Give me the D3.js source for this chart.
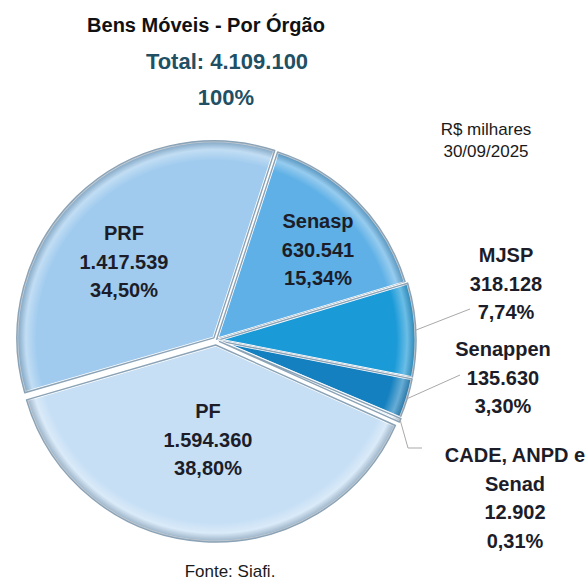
<!DOCTYPE html>
<html>
<head>
<meta charset="utf-8">
<script src="https://cdn.jsdelivr.net/npm/d3@7"></script>
<style>
  body { margin: 0; background: #fff; }
  text { font-family: "Liberation Sans", Arial, sans-serif; }
</style>
</head>
<body>
<svg width="586" height="581"></svg>
<script>
// Data (R$ milhares, 30/09/2025)
const orgaos = ["Senasp", "MJSP", "Senappen", "CADE, ANPD e Senad", "PF", "PRF"];
const nomesRotulo = [["Senasp"], ["MJSP"], ["Senappen"], ["CADE, ANPD e", "Senad"], ["PF"], ["PRF"]];
const valores = [630541, 318128, 135630, 12902, 1594360, 1417539];
const percentuais = [15.34, 7.74, 3.30, 0.31, 38.80, 34.50];
const total = 4109100;

const svg = d3.select("svg");
const svgWidth = +svg.attr("width");

const center = { x: 216, y: 340 };
const radius = 197;
const startDeg = 18; // first slice (Senasp) starts a bit right of 12 o'clock

const br = d3.formatLocale({ decimal: ",", thousands: ".", grouping: [3], currency: ["R$", ""] });
const fmtNum = br.format(",d");
const fmtPct = v => br.format(",.2f")(v) + "%";

const color = d3.scaleOrdinal()
    .domain(orgaos)
    .range(["#5eb0e6", "#1b9ad8", "#1580bf", "#d3e5f4", "#c6dff5", "#a0cbee"]);

// how far each slice is pulled out from the centre
const explode = { "Senasp": 1, "MJSP": 3, "Senappen": 3, "CADE, ANPD e Senad": 4, "PF": 5, "PRF": 3 };

const data = orgaos.map((o, i) => ({ orgao: o, nome: nomesRotulo[i], valor: valores[i], pct: percentuais[i] }));

const a0 = startDeg * Math.PI / 180;
const pie = d3.pie().sort(null).value(d => d.valor).startAngle(a0).endAngle(a0 + 2 * Math.PI);
const arcs = pie(data);

const arc = d3.arc().innerRadius(0).outerRadius(radius);
const edgeArc = d3.arc().innerRadius(radius).outerRadius(radius);

// rim shading gradient
const defs = svg.append("defs");
const rim = defs.append("radialGradient")
    .attr("id", "rim")
    .attr("gradientUnits", "userSpaceOnUse")
    .attr("cx", 0).attr("cy", 0).attr("r", radius);
rim.append("stop").attr("offset", "0.90").attr("stop-color", "#fff").attr("stop-opacity", 0);
rim.append("stop").attr("offset", "0.955").attr("stop-color", "#fff").attr("stop-opacity", 0.35);
rim.append("stop").attr("offset", "1").attr("stop-color", "#3d5468").attr("stop-opacity", 0.35);

function offset(d) {
    const mid = (d.startAngle + d.endAngle) / 2;
    const k = explode[d.data.orgao];
    return [Math.sin(mid) * k, -Math.cos(mid) * k];
}

const pieGroup = svg.append("g")
    .attr("transform", `translate(${center.x},${center.y})`);

const slices = pieGroup.selectAll("g.slice")
    .data(arcs)
    .enter()
    .append("g")
    .attr("class", "slice")
    .attr("transform", d => `translate(${offset(d)})`);

slices.append("path")
    .attr("d", arc)
    .attr("fill", d => color(d.data.orgao))
    .attr("stroke", "#fff")
    .attr("stroke-width", 3)
    .attr("stroke-linejoin", "round");

slices.append("path")
    .attr("d", arc)
    .attr("fill", "url(#rim)")
    .attr("stroke", "#8ba3b7")
    .attr("stroke-width", 1.4)
    .attr("stroke-linejoin", "round");

// Labels
const lineH = 28.5;
const labelPos = {
    "PRF": { x: 124, y: 240 },
    "Senasp": { x: 318, y: 228 },
    "PF": { x: 208, y: 418 },
    "MJSP": { x: 506, y: 262 },
    "Senappen": { x: 503, y: 356 },
    "CADE, ANPD e Senad": { x: 515, y: 462 }
};
// where the leader lines end (outer labels only)
const leaderEnd = {
    "MJSP": [[470, 309]],
    "Senappen": [[460, 375]],
    "CADE, ANPD e Senad": [[408, 448], [422, 448]]
};

const labels = svg.append("g").attr("class", "labels");

arcs.forEach(d => {
    const p = labelPos[d.data.orgao];
    const lines = d.data.nome.concat([fmtNum(d.data.valor), fmtPct(d.data.pct)]);
    const t = labels.append("text")
        .attr("text-anchor", "middle")
        .attr("font-size", 20)
        .attr("font-weight", "bold")
        .attr("fill", "#1c1d29");
    lines.forEach((s, i) => {
        t.append("tspan").attr("x", p.x).attr("y", p.y + i * lineH).text(s);
    });

    if (leaderEnd[d.data.orgao]) {
        const c = edgeArc.centroid(d);
        const o = offset(d);
        const pts = [[center.x + c[0] + o[0], center.y + c[1] + o[1]]].concat(leaderEnd[d.data.orgao]);
        labels.append("path")
            .attr("d", d3.line()(pts))
            .attr("fill", "none")
            .attr("stroke", "#a9a9a9")
            .attr("stroke-width", 1);
    }
});

// Titles
svg.append("text")
    .attr("x", 206).attr("y", 32)
    .attr("text-anchor", "middle")
    .attr("font-size", 20).attr("font-weight", "bold")
    .attr("fill", "#111")
    .text("Bens Móveis - Por Órgão");

svg.append("text")
    .attr("x", 227).attr("y", 69)
    .attr("text-anchor", "middle")
    .attr("font-size", 22).attr("font-weight", "bold")
    .attr("fill", "#214f63")
    .text("Total: " + fmtNum(total));

svg.append("text")
    .attr("x", 226).attr("y", 105)
    .attr("text-anchor", "middle")
    .attr("font-size", 22).attr("font-weight", "bold")
    .attr("fill", "#214f63")
    .text("100%");

const nota = svg.append("text")
    .attr("text-anchor", "middle")
    .attr("font-size", 17)
    .attr("fill", "#1a1a1a");
nota.append("tspan").attr("x", 486).attr("y", 135).text("R$ milhares");
nota.append("tspan").attr("x", 486).attr("y", 157).text("30/09/2025");

svg.append("text")
    .attr("x", 230).attr("y", 577)
    .attr("text-anchor", "middle")
    .attr("font-size", 17)
    .attr("fill", "#1a1a1a")
    .text("Fonte: Siafi.");
</script>
</body>
</html>
